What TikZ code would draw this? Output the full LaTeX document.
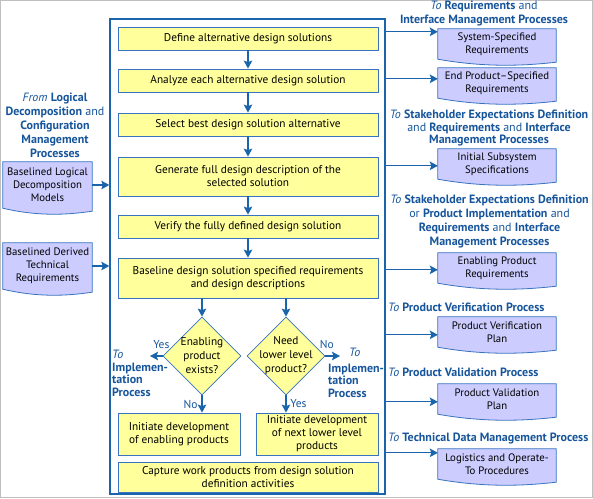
\documentclass[tikz,border=0pt]{standalone}
\usepackage{fontspec}
\setsansfont{PT Sans}
\definecolor{flowblue}{RGB}{25,100,170}
\definecolor{edgeblue}{RGB}{55,115,190}
\definecolor{hdblue}{RGB}{22,85,155}
\definecolor{boxyellow}{RGB}{255,255,155}
\definecolor{doclilac}{RGB}{204,204,255}
\tikzset{every picture/.style={/utils/exec={\sffamily\fontsize{11.3}{13}\selectfont}}}
\usetikzlibrary{calc}
\usetikzlibrary{positioning}
\usetikzlibrary{arrows.meta,shapes.geometric,backgrounds}

\tikzset{
  stepbox/.style={draw=edgeblue, line width=0.8pt, fill=boxyellow, text=black, minimum width=260pt, minimum height=23pt, inner sep=1pt, align=center},
  decision/.style={diamond, aspect=1, draw=edgeblue, line width=0.8pt, fill=boxyellow, minimum width=78pt, minimum height=78pt, inner sep=0pt},
  rdoc/.style={text=black, minimum width=118pt, minimum height=30pt, inner sep=1pt, align=center, font=\fontsize{10.8}{13}\selectfont},
  ldoc/.style={text=black, minimum width=89pt, minimum height=46pt, inner sep=1pt, align=center, font=\fontsize{10.8}{13}\selectfont},
  docline/.style={draw=edgeblue, line width=0.8pt, fill=doclilac},
  hdtext/.style={text=hdblue, align=center, inner sep=0pt, font=\fontsize{12}{13.5}\selectfont},
  yesno/.style={text=hdblue, font=\fontsize{11.5}{13}\selectfont},
  flow/.style={draw=flowblue, line width=1.3pt, -{Stealth[length=8pt,width=8.5pt,inset=1.5pt]}}
}

\begin{document}
\begin{tikzpicture}[x=1pt, y=-1pt]
  \useasboundingbox (0,0) rectangle (593,498);
  \draw[black!25, line width=1.2pt] (0.6,0.6) rectangle (592.4,497.4);

  % main frame
  \node[draw=flowblue, line width=1.3pt, minimum width=275pt, minimum height=475pt] (frame) at (247.5,256.5) {};

  \node[stepbox] (define) at (248,38.5) {Define alternative design solutions};
  \node[stepbox] (analyze) at (248,80.5) {Analyze each alternative design solution};
  \node[stepbox] (select) at (248,124.5) {Select best design solution alternative};
  \node[stepbox, minimum height=39pt] (generate) at (248,176.5) {Generate full design description of the\\selected solution};
  \node[stepbox] (verify) at (248,226.5) {Verify the fully defined design solution};
  \node[stepbox, minimum height=40pt] (baseline) at (248,278) {Baseline design solution specified requirements\\and design descriptions};

  \foreach \a/\b in {define/analyze, analyze/select, select/generate, generate/verify, verify/baseline} {
    \draw[flow] (\a) -- (\b);
  }

  % decisions
  \node[decision, label={[align=center, font=\fontsize{11.3}{14}\selectfont]center:Enabling\\product\\exists?}] (enabling) at (202,356) {};
  \node[decision, label={[align=center, font=\fontsize{11.3}{14}\selectfont]center:Need\\lower level\\product?}] (needlower) at (286,356) {};
  \draw[flow] (enabling.north |- baseline.south) -- (enabling.north);
  \draw[flow] (needlower.north |- baseline.south) -- (needlower.north);

  \node[stepbox, minimum width=122pt, minimum height=42pt] (initenab) at (179,434) {Initiate development\\of enabling products};
  \node[stepbox, minimum width=122pt, minimum height=42pt] (initlower) at (317,434) {Initiate development\\of next lower level\\products};
  \node[stepbox, minimum height=30pt] (capture) at (248,477) {Capture work products from design solution\\definition activities};

  \draw[flow] (enabling.south) -- (enabling.south |- initenab.north) node[midway, left, yesno] {No};
  \draw[flow] (needlower.south) -- (needlower.south |- initlower.north) node[midway, right, yesno] {Yes};

  \coordinate (yesend) at (150,356);
  \coordinate (noend) at (340,356);
  \draw[flow] (enabling.west) -- (yesend) node[pos=0.1, above=3pt, yesno] {Yes};
  \draw[flow] (needlower.east) -- (noend) node[pos=0.1, above=3pt, yesno] {No};

  \node[hdtext, align=left, anchor=north west, font=\fontsize{12}{12.5}\selectfont] (impleft) at (112,350) {\textit{To}\\\textbf{Implemen-}\\\textbf{tation}\\\textbf{Process}};
  \node[hdtext, align=left, anchor=north west, font=\fontsize{12}{12.5}\selectfont] (impright) at (328,348) {\hspace*{21pt}\textit{To}\\[3pt]\textbf{Implemen-}\\\textbf{tation}\\\textbf{Process}};

  % inputs
  \node[hdtext, font=\fontsize{12}{14}\selectfont] (fromhd) at (55,125) {\textit{From} \textbf{Logical}\\\textbf{Decomposition} and\\\textbf{Configuration}\\\textbf{Management}\\\textbf{Processes}};
  \node[ldoc] (logmod) at (47.5,185) {Baselined Logical\\Decomposition\\Models};
  \node[ldoc] (dertech) at (47.5,266) {Baselined Derived\\Technical\\Requirements};
  \draw[flow] (logmod.east) -- (logmod.east -| frame.west);
  \draw[flow] (dertech.east) -- (dertech.east -| frame.west);

  % outputs
  \node[hdtext] (tohd1) at (484,13.5) {\textit{To} \textbf{Requirements} and\\\textbf{Interface Management Processes}};
  \node[rdoc] (sysreq) at (497,44) {System-Specified\\Requirements};
  \node[rdoc] (endreq) at (497,83) {End Product--Specified\\Requirements};
  \node[hdtext, font=\fontsize{12}{12.5}\selectfont] (tohd2) at (489,128) {\textit{To} \textbf{Stakeholder Expectations Definition}\\and \textbf{Requirements} and \textbf{Interface}\\\textbf{Management Processes}};
  \node[rdoc] (subsys) at (497,164) {Initial Subsystem\\Specifications};
  \node[hdtext, font=\fontsize{12}{14}\selectfont] (tohd3) at (489.5,221) {\textit{To} \textbf{Stakeholder Expectations Definition}\\or \textbf{Product Implementation} and\\\textbf{Requirements} and \textbf{Interface}\\\textbf{Management Processes}};
  \node[rdoc] (enabreq) at (497,268) {Enabling Product\\Requirements};
  \node[hdtext, anchor=west] (tohd4) at (388,307) {\textit{To} \textbf{Product Verification Process}};
  \node[rdoc] (verplan) at (497,332) {Product Verification\\Plan};
  \node[hdtext, anchor=west] (tohd5) at (388,372) {\textit{To} \textbf{Product Validation Process}};
  \node[rdoc] (valplan) at (497,399) {Product Validation\\Plan};
  \node[hdtext, anchor=west] (tohd6) at (388,438) {\textit{To} \textbf{Technical Data Management Process}};
  \node[rdoc] (logist) at (497,464) {Logistics and Operate-\\To Procedures};

  \foreach \d/\s in {sysreq/3, endreq/11, subsys/17, enabreq/17, verplan/18, valplan/18, logist/4} {
    \path ($(\d.north west)+(0,\s)$) coordinate (\d-in);
    \draw[flow] (frame.east |- \d-in) -- (\d-in);
  }

  % document shapes behind the texts
  \begin{scope}[on background layer]
    \foreach \d in {sysreq, endreq, subsys, enabreq, verplan, valplan, logist} {
      \filldraw[docline] (\d.north west) -- (\d.north east) -- ([yshift=-3pt]\d.south east)
        .. controls +(-35,4) and +(45,8) .. (\d.south west) -- cycle;
    }
    \foreach \d in {logmod, dertech} {
      \filldraw[docline] (\d.north west) -- (\d.north east) -- ([yshift=-3pt]\d.south east)
        .. controls +(-27,4) and +(34,8) .. (\d.south west) -- cycle;
    }
  \end{scope}
\end{tikzpicture}
\end{document}
